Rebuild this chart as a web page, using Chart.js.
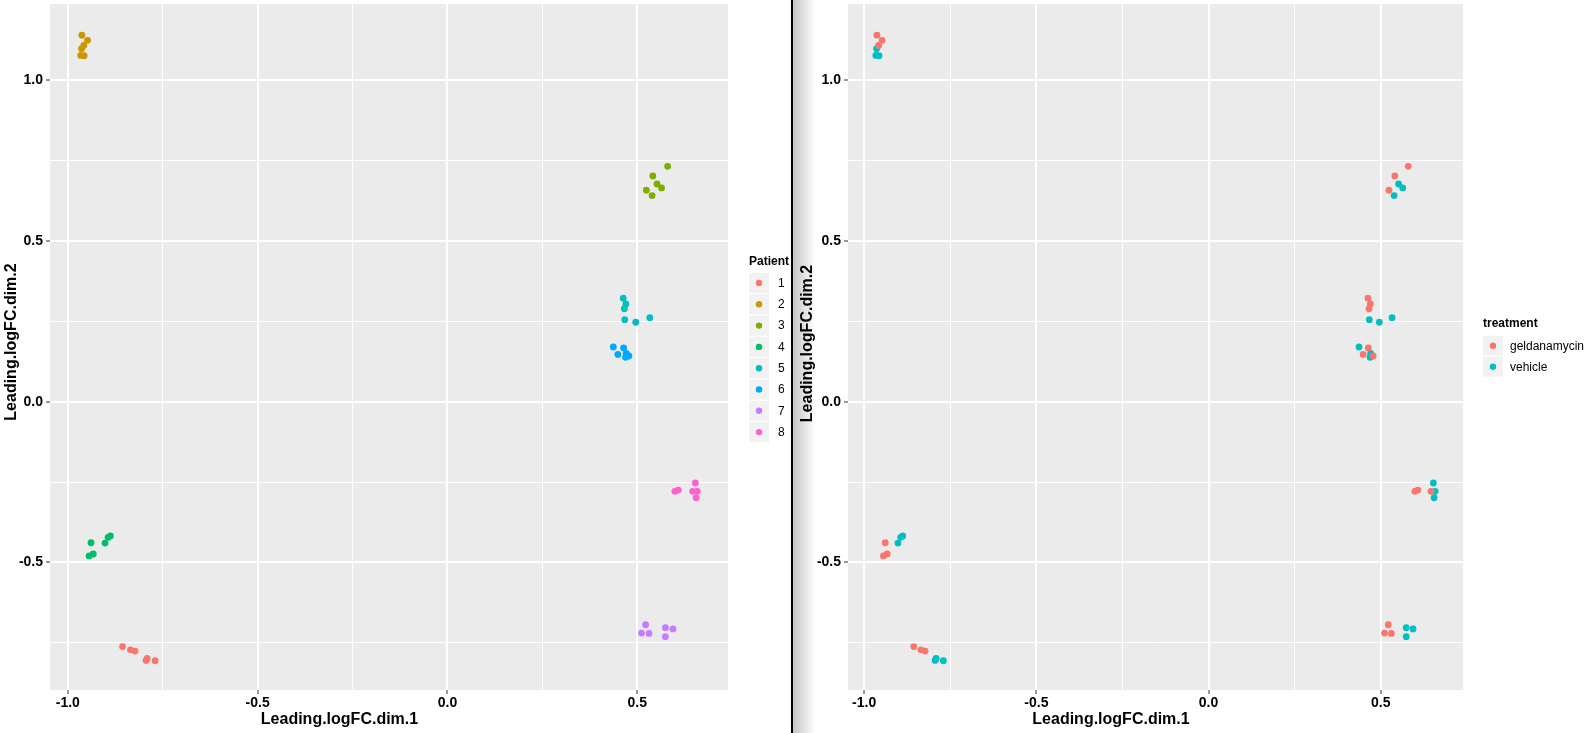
<!DOCTYPE html>
<html><head><meta charset="utf-8">
<script src="https://cdn.jsdelivr.net/npm/chart.js@4.4.0/dist/chart.umd.min.js"></script>
<style>
body{margin:0;background:#fff;width:1589px;height:733px;overflow:hidden;position:relative}
canvas{position:absolute;top:0}
#c1{left:0}
#c2{left:793px}
#sep{position:absolute;left:791px;top:0;width:2px;height:733px;background:#000}
#shade{position:absolute;left:793px;top:0;width:22px;height:733px;background:linear-gradient(to right,#c4c4c4,#ffffff)}
</style></head><body>
<div id="shade"></div>
<canvas id="c1" width="791" height="733"></canvas>
<canvas id="c2" width="796" height="733"></canvas>
<div id="sep"></div>
<script>
const FONT = '"Liberation Sans", Arial, Helvetica, sans-serif';

const patientLevels = ['1','2','3','4','5','6','7','8'];
const patientColors = ['#F8766D','#CD9600','#7CAE00','#00BE67','#00BFC4','#00A9FF','#C77CFF','#FF61CC'];
const treatmentLevels = ['geldanamycin','vehicle'];
const treatmentColors = ['#F8766D','#00BFC4'];

const dim1 = [
 -0.856,-0.835,-0.823,-0.794,-0.791,-0.770,
 -0.963,-0.948,-0.958,-0.964,-0.966,-0.957,
  0.580, 0.541, 0.524, 0.552, 0.564, 0.539,
 -0.939,-0.944,-0.933,-0.902,-0.894,-0.888,
  0.463, 0.470, 0.466, 0.467, 0.496, 0.533,
  0.464, 0.449, 0.478, 0.437, 0.471, 0.469,
  0.522, 0.511, 0.531, 0.574, 0.594, 0.574,
  0.599, 0.608, 0.646, 0.653, 0.658, 0.655];
const dim2 = [
 -0.762,-0.772,-0.776,-0.805,-0.799,-0.806,
  1.140, 1.124, 1.108, 1.098, 1.077, 1.076,
  0.732, 0.702, 0.658, 0.677, 0.665, 0.641,
 -0.439,-0.480,-0.474,-0.440,-0.422,-0.418,
  0.322, 0.304, 0.289, 0.255, 0.247, 0.261,
  0.167, 0.147, 0.142, 0.170, 0.150, 0.138,
 -0.694,-0.720,-0.721,-0.703,-0.707,-0.731,
 -0.279,-0.275,-0.279,-0.253,-0.279,-0.299];
const patient = [
 '1','1','1','1','1','1',
 '2','2','2','2','2','2',
 '3','3','3','3','3','3',
 '4','4','4','4','4','4',
 '5','5','5','5','5','5',
 '6','6','6','6','6','6',
 '7','7','7','7','7','7',
 '8','8','8','8','8','8'];
const G = 'geldanamycin', V = 'vehicle';
const treatment = [
 G,G,G,V,V,V,
 G,G,G,V,V,V,
 G,G,G,V,V,V,
 G,G,G,V,V,V,
 G,G,G,V,V,V,
 G,G,G,V,V,V,
 G,G,G,V,V,V,
 G,G,G,V,V,V];

const xTicks = [-1.0,-0.75,-0.5,-0.25,0,0.25,0.5];
const yTicks = [-0.75,-0.5,-0.25,0,0.25,0.5,0.75,1.0];
const xLimits = [-1.047, 0.739];
const yLimits = [-0.897, 1.237];
const xTitle = 'Leading.logFC.dim.1';
const yTitle = 'Leading.logFC.dim.2';

function isMajor(v){ return Math.abs(v*2 - Math.round(v*2)) < 1e-6; }

function makeChart(id, groupVar, levels, colors, L){
  const canvas = document.getElementById(id);
  const W = canvas.width, H = canvas.height;
  const datasets = levels.map((lv, k) => {
    const pts = [];
    for (let i = 0; i < dim1.length; i++) if (groupVar[i] === lv) pts.push({x: dim1[i], y: dim2[i]});
    return {label: lv, data: pts, backgroundColor: colors[k], borderColor: colors[k],
      pointRadius: 3.4, pointBorderWidth: 0, pointHoverRadius: 3.4};
  });
  const tickFont = {family: FONT, size: 14, weight: 'bold'};
  const gridCfg = {
    color: '#ffffff',
    lineWidth: c => (c.tick && isMajor(c.tick.value)) ? 2 : 1,
    tickColor: c => (c.tick && isMajor(c.tick.value)) ? '#333333' : 'rgba(0,0,0,0)',
    tickLength: 4, tickWidth: 1, drawTicks: true
  };
  const plugin = {
    id: 'gg' + id,
    beforeDraw(chart){
      const {ctx, chartArea: a} = chart;
      ctx.save(); ctx.fillStyle = '#EBEBEB';
      ctx.fillRect(a.left, a.top, a.right - a.left, a.bottom - a.top);
      ctx.restore();
    },
    afterDraw(chart){
      const ctx = chart.ctx;
      ctx.save();
      ctx.fillStyle = '#000';
      ctx.font = 'bold 16px ' + FONT;
      ctx.textAlign = 'center'; ctx.textBaseline = 'middle';
      ctx.fillText(xTitle, L.xTitleX, L.xTitleY);
      ctx.save();
      ctx.translate(L.yTitleX, L.yTitleY); ctx.rotate(-Math.PI/2);
      ctx.fillText(yTitle, 0, 0);
      ctx.restore();
      ctx.textAlign = 'left';
      ctx.font = 'bold 12px ' + FONT;
      ctx.fillText(L.legendTitle, L.legendX, L.legendTitleY);
      ctx.font = '12px ' + FONT;
      levels.forEach((lv, k) => {
        const cy = L.legendFirstY + k * L.legendStep;
        ctx.fillStyle = '#F2F2F2';
        ctx.fillRect(L.legendX, cy - 10, 20, 20);
        ctx.fillStyle = colors[k];
        ctx.beginPath(); ctx.arc(L.legendX + 10, cy, 3.2, 0, Math.PI*2); ctx.fill();
        ctx.fillStyle = '#000';
        ctx.fillText(lv, L.labelX, cy + 0.5);
      });
      ctx.restore();
    }
  };
  return new Chart(canvas, {
    type: 'scatter',
    data: {datasets},
    plugins: [plugin],
    options: {
      responsive: false, animation: false, devicePixelRatio: 1,
      layout: {padding: {left: 0, right: W - L.right, top: L.top, bottom: 0}},
      plugins: {legend: {display: false}, tooltip: {enabled: false}},
      events: [],
      scales: {
        x: {
          type: 'linear', position: 'bottom', min: xLimits[0], max: xLimits[1],
          afterBuildTicks: s => { s.ticks = xTicks.map(v => ({value: v})); },
          afterFit: s => { s.height = H - L.bottom; s.paddingLeft = 0; s.paddingRight = 0; s.paddingTop = 0; s.paddingBottom = 0; },
          ticks: {callback: v => isMajor(v) ? Number(v).toFixed(1) : '', color: '#000', font: tickFont,
                  padding: 1, maxRotation: 0, minRotation: 0, autoSkip: false},
          grid: gridCfg, border: {display: false}, title: {display: false}
        },
        y: {
          type: 'linear', position: 'left', min: yLimits[0], max: yLimits[1],
          afterBuildTicks: s => { s.ticks = yTicks.map(v => ({value: v})); },
          afterFit: s => { s.width = L.left; s.paddingLeft = 0; s.paddingRight = 0; s.paddingTop = 0; s.paddingBottom = 0; },
          ticks: {callback: v => isMajor(v) ? Number(v).toFixed(1) : '', color: '#000', font: tickFont,
                  padding: 3, autoSkip: false},
          grid: gridCfg, border: {display: false}, title: {display: false}
        }
      }
    }
  });
}

makeChart('c1', patient, patientLevels, patientColors, {
  left: 50, right: 728, top: 4, bottom: 690,
  xTitleX: 339.5, xTitleY: 719.5, yTitleX: 12, yTitleY: 342,
  legendTitle: 'Patient', legendX: 749, legendTitleY: 262, legendFirstY: 283, legendStep: 21.3, labelX: 778
});
makeChart('c2', treatment, treatmentLevels, treatmentColors, {
  left: 55, right: 670, top: 4, bottom: 690,
  xTitleX: 318, xTitleY: 719.5, yTitleX: 15, yTitleY: 343.5,
  legendTitle: 'treatment', legendX: 690, legendTitleY: 324, legendFirstY: 345.7, legendStep: 21, labelX: 717
});
</script>
</body></html>
